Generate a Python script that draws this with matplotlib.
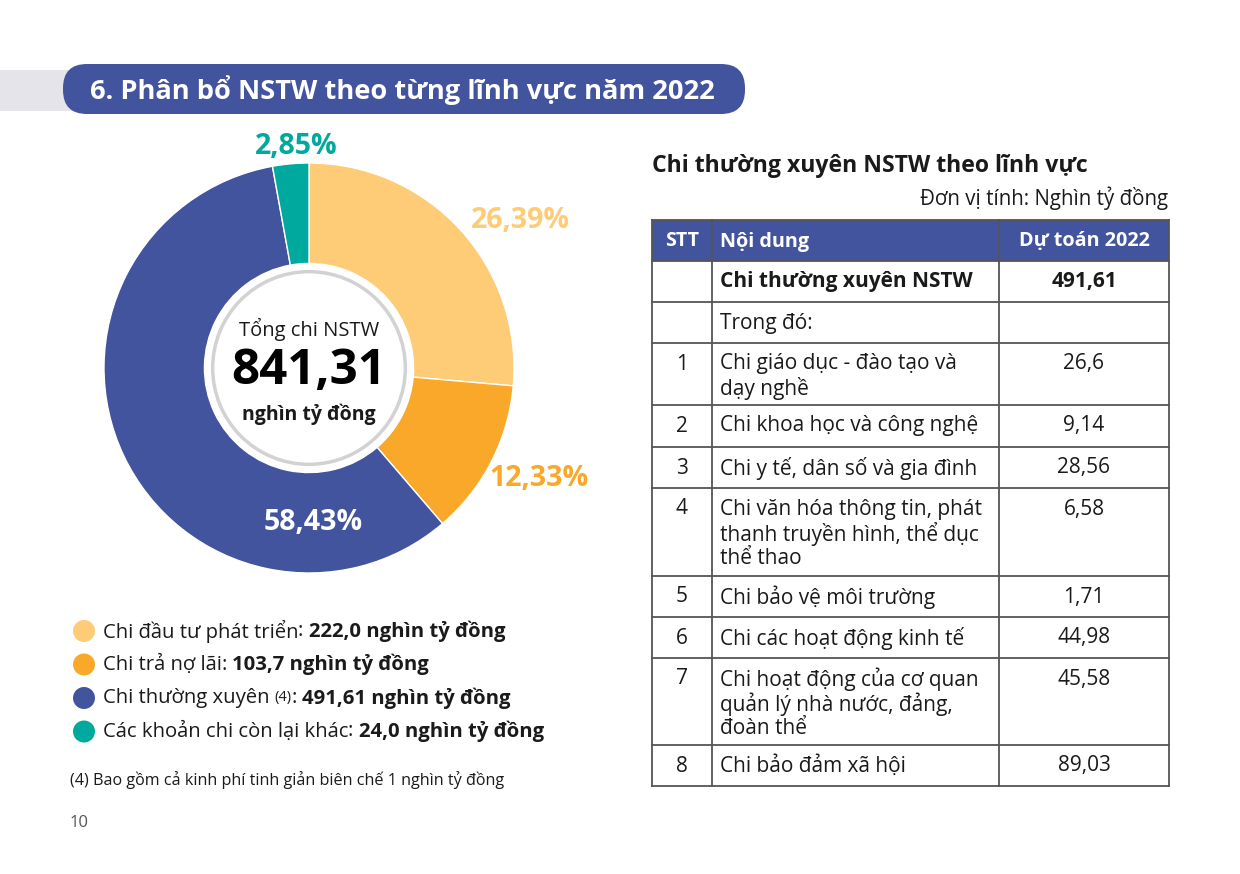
import numpy as np
import matplotlib.pyplot as plt
from matplotlib.patches import FancyBboxPatch, Circle, Rectangle

plt.rcParams['font.family'] = ['Open Sans', 'DejaVu Sans']

##########################################
####              Data                ####
##########################################
title = '6. Phân bổ NSTW theo từng lĩnh vực năm 2022'
slice_names = ['Chi đầu tư phát triển', 'Chi trả nợ lãi', 'Chi thường xuyên', 'Các khoản chi còn lại khác']
slice_notes = ['', '', '(4)', '']
slice_values = [222.0, 103.7, 491.61, 24.0]
slice_value_text = ['222,0', '103,7', '491,61', '24,0']
slice_pct_text = ['26,39%', '12,33%', '58,43%', '2,85%']
slice_colors = ['#FECB77', '#F9A82A', '#43549F', '#00A99D']
pct_colors = ['#FECB77', '#F9A82A', 'white', '#00A99D']
total_text = '841,31'
unit = 'nghìn tỷ đồng'
footnote = '(4) Bao gồm cả kinh phí tinh giản biên chế 1 nghìn tỷ đồng'

table_title = 'Chi thường xuyên NSTW theo lĩnh vực'
table_unit = 'Đơn vị tính: Nghìn tỷ đồng'
table_header = ['STT', 'Nội dung', 'Dự toán 2022']
table_stt = ['', '', '1', '2', '3', '4', '5', '6', '7', '8']
table_content = [
    ['Chi thường xuyên NSTW'],
    ['Trong đó:'],
    ['Chi giáo dục - đào tạo và', 'dạy nghề'],
    ['Chi khoa học và công nghệ'],
    ['Chi y tế, dân số và gia đình'],
    ['Chi văn hóa thông tin, phát', 'thanh truyền hình, thể dục', 'thể thao'],
    ['Chi bảo vệ môi trường'],
    ['Chi các hoạt động kinh tế'],
    ['Chi hoạt động của cơ quan', 'quản lý nhà nước, đảng,', 'đoàn thể'],
    ['Chi bảo đảm xã hội'],
]
table_values = ['491,61', '', '26,6', '9,14', '28,56', '6,58', '1,71', '44,98', '45,58', '89,03']

##########################################
####             Layout               ####
##########################################
W, H = 1240, 874
blue = '#43549F'
ink = '#1a1a1a'
cx, cy, R = 309, 368, 205
pct_pos = [(520, 220), (539, 478), (313, 522), (296, 147)]
row_heights = [41, 41, 62, 42, 41, 88, 41, 41, 87, 41]
tab_x = [652, 712, 999, 1169]
tab_top, head_h = 220, 41
line_col = '#555555'
fs_tab = 15
fs_leg = 14.6

fig = plt.figure(figsize=(W / 100, H / 100), dpi=100)

### Donut (drawn first, text axes goes on top)
pax = fig.add_axes([(cx - R) / W, 1 - (cy + R) / H, 2 * R / W, 2 * R / H])
pax.pie(slice_values, colors=slice_colors, startangle=90, counterclock=False,
        wedgeprops=dict(width=0.49, edgecolor='white', linewidth=1.0), radius=1)
pax.set_xlim(-1, 1)
pax.set_ylim(-1, 1)
pax.add_patch(Circle((0, 0), 0.47, facecolor='white', edgecolor='#D2D2D2', lw=2.5))
pax.axis('off')

ax = fig.add_axes([0, 0, 1, 1])
ax.set_xlim(0, W)
ax.set_ylim(H, 0)
ax.axis('off')
ax.patch.set_alpha(0)
renderer = fig.canvas.get_renderer()


def runs(x, y, parts):
    # draw consecutive text pieces on one line: (text, size, weight)
    for txt, size, weight in parts:
        t = ax.text(x, y, txt, fontsize=size, fontweight=weight, color=ink,
                    ha='left', va='center')
        bb = t.get_window_extent(renderer=renderer)
        x = bb.x1


### Title banner
ax.add_patch(Rectangle((0, 70), 120, 41, color='#E4E4EA', lw=0))
ax.add_patch(FancyBboxPatch((63, 64), 682, 50, boxstyle='round,pad=0,rounding_size=24',
                            color=blue, lw=0))
ax.text(90, 90, title, fontsize=19.6, fontweight='bold', color='white', ha='left', va='center')

### Donut labels
ax.text(cx, 329, 'Tổng chi NSTW', fontsize=14.5, color=ink, ha='center', va='center')
ax.text(cx, 372, total_text, fontsize=35.5, fontweight='bold', color='black', ha='center', va='center')
ax.text(cx, 414, unit, fontsize=14, fontweight='bold', color=ink, ha='center', va='center')

for (px, py), txt, c in zip(pct_pos, slice_pct_text, pct_colors):
    ax.text(px, py, txt, fontsize=20.5, fontweight='bold', color=c, ha='center', va='center')

### Legend
for i, name in enumerate(slice_names):
    ly = 631 + i * 33.5
    ax.add_patch(Circle((84, ly), 11, color=slice_colors[i], lw=0))
    if slice_notes[i]:
        parts = [(name + ' ', fs_leg, 'normal'), (slice_notes[i], 10.5, 'normal')]
    else:
        parts = [(name, fs_leg, 'normal')]
    parts.append((': ', fs_leg, 'normal'))
    parts.append((slice_value_text[i] + ' ' + unit, fs_leg, 'bold'))
    runs(103, ly, parts)

ax.text(70, 780, footnote, fontsize=11.6, color=ink, ha='left', va='center')
ax.text(70, 823, '10', fontsize=12, color='#555555', ha='left', va='center')

### Table
ax.text(652, 166, table_title, fontsize=16.6, fontweight='bold', color=ink, ha='left', va='center')
ax.text(1168, 198, table_unit, fontsize=14.8, color=ink, ha='right', va='center')

ax.add_patch(Rectangle((tab_x[0], tab_top), tab_x[3] - tab_x[0], head_h, color=blue, lw=0))
hy = tab_top + head_h / 2 + 1
ax.text((tab_x[0] + tab_x[1]) / 2, hy, table_header[0], fontsize=14.2,
        fontweight='bold', color='white', ha='center', va='center')
ax.text(tab_x[1] + 8, hy, table_header[1], fontsize=14.2,
        fontweight='bold', color='white', ha='left', va='center')
ax.text((tab_x[2] + tab_x[3]) / 2, hy, table_header[2], fontsize=14.2,
        fontweight='bold', color='white', ha='center', va='center')

y = tab_top + head_h
bounds = [tab_top, y]
for i, h in enumerate(row_heights):
    weight = 'bold' if i == 0 else 'normal'
    ty = y + 21
    ax.text((tab_x[0] + tab_x[1]) / 2, ty, table_stt[i], fontsize=fs_tab, color=ink,
            ha='center', va='center')
    for k, line in enumerate(table_content[i]):
        ax.text(tab_x[1] + 8, ty + k * 25, line, fontsize=fs_tab, fontweight=weight,
                color=ink, ha='left', va='center')
    ax.text((tab_x[2] + tab_x[3]) / 2, ty, table_values[i], fontsize=fs_tab, fontweight=weight,
            color=ink, ha='center', va='center')
    y += h
    bounds.append(y)

for b in bounds:
    ax.plot([tab_x[0], tab_x[3]], [b, b], color=line_col, lw=1.3)
for xv in tab_x:
    ax.plot([xv, xv], [tab_top, bounds[-1]], color=line_col, lw=1.3)

fig.savefig('out.png', dpi=100)
